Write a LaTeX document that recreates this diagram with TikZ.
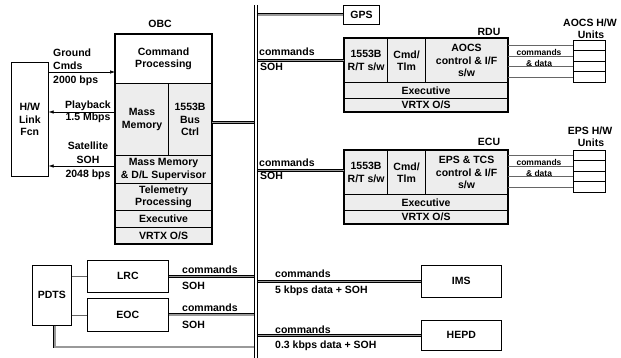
\documentclass[tikz,border=0pt]{standalone}
\usepackage{fontspec}
\setmainfont{Liberation Sans}
\usetikzlibrary{arrows.meta}
\begin{document}
\begin{tikzpicture}[x=1pt,y=-1pt,
  every node/.style={font=\fontsize{10.5}{12.5}\selectfont\bfseries, inner sep=0pt},
  cell/.style={draw, line width=1.1pt, fill=black!7, anchor=north west, align=center},
  plainbox/.style={draw, line width=0.6pt, fill=white, anchor=north west, align=center},
  unitrow/.style={draw, line width=0.5pt, anchor=north west, minimum width=32pt, minimum height=10.5pt},
  dbl/.style={draw=black, double=black!40, double distance=1.5pt, line width=0.7pt},
  busline/.style={draw=black, double=white, double distance=2pt, line width=0.8pt},
  arr/.style={line width=0.6pt, -{Latex[length=5pt,width=3.5pt]}},
  thinl/.style={line width=0.5pt, draw=black!60},
  lbl/.style={anchor=base west},
  small/.style={font=\fontsize{8.5}{10}\selectfont\bfseries}
]
\useasboundingbox (0,0) rectangle (621,358);
\coordinate (bustop) at (256,5);
\coordinate (busbot) at (256,358);

% ---------- OBC ----------
\node (obclbl) at (160,24) {OBC};
\node[cell, fill=white, minimum width=96pt, minimum height=49pt] (cmd) at (115,34) {Command\\Processing};
\node[cell, minimum width=53pt, minimum height=72pt] (mm) at (115,83) {Mass\\Memory};
\node[cell, minimum width=43pt, minimum height=72pt] (bc) at (168,83) {1553B\\Bus\\Ctrl};
\node[cell, minimum width=96pt, minimum height=28pt] (mmds) at (115,155) {Mass Memory\\\& D/L Supervisor};
\node[cell, minimum width=96pt, minimum height=27pt] (tlm) at (115,183) {Telemetry\\Processing};
\node[cell, minimum width=96pt, minimum height=17pt] (exe) at (115,210) {Executive};
\node[cell, minimum width=96pt, minimum height=16pt] (vrtx) at (115,227) {VRTX O/S};
\draw[line width=1.8pt] (cmd.north west) rectangle (vrtx.south east);

% ---------- H/W link ----------
\node[plainbox, minimum width=37pt, minimum height=114pt] (hw) at (11,62) {H/W\\Link\\Fcn};
\draw[arr] (hw.east |- 0,72) -- (cmd.west |- 0,72);
\draw[arr] (mm.west |- 0,112) -- (hw.east |- 0,112);
\draw[arr] (mmds.west |- 0,166) -- (hw.east |- 0,166);
\node[align=left, anchor=west, font=\fontsize{10.5}{13.5}\selectfont\bfseries] (gc) at (53,67) {Ground\\Cmds\\2000 bps};
\node[align=center, font=\fontsize{10.5}{12.5}\selectfont\bfseries] (pbk) at (88,112) {Playback\\1.5 Mbps};
\node[align=center, font=\fontsize{10.5}{14}\selectfont\bfseries] (ssoh) at (88,161) {Satellite\\SOH\\2048 bps};

% ---------- GPS ----------
\node[plainbox, line width=0.9pt, minimum width=36pt, minimum height=19pt] (gps) at (343,5) {GPS};
\draw[dbl] (gps.west) -- (gps.west -| bustop);
\draw[dbl] ([yshift=-3pt]bc.east) -- ([yshift=-3pt]bc.east -| bustop);

% ---------- RDU ----------
\node (rdulbl) at (489,32) {RDU};
\node[cell, minimum width=43pt, minimum height=44pt] (r1) at (344,38) {1553B\\R/T s/w};
\node[cell, minimum width=38pt, minimum height=44pt] (r2) at (387,38) {Cmd/\\Tlm};
\node[cell, minimum width=82pt, minimum height=44pt] (r3) at (425,38) {AOCS\\control \& I/F\\s/w};
\node[cell, minimum width=163pt, minimum height=16pt] (r4) at (344,82) {Executive};
\node[cell, minimum width=163pt, minimum height=13pt] (r5) at (344,98) {VRTX O/S};
\draw[line width=1.8pt] (r1.north west) rectangle (r5.south east);
\draw[dbl] (r1.west) -- (r1.west -| bustop);
\node[lbl] (rcm) at (259,56) {commands};
\node[lbl] (rsoh) at (260,71) {SOH};

\node (aocslbl) at (590,23) {AOCS H/W};
\node (aocsun) at (591,35) {Units};
\foreach \i in {0,1,2,3} {
  \node[unitrow] (au\i) at (573,40+10.5*\i) {};
  \draw[thinl] (r3.east |- au\i.west) -- (au\i.west);
}
\node[small] (acd1) at (539,52) {commands};
\node[small] (acd2) at (539,63) {\& data};

% ---------- ECU ----------
\node (eculbl) at (489,142) {ECU};
\node[cell, minimum width=43pt, minimum height=44pt] (e1) at (344,150) {1553B\\R/T s/w};
\node[cell, minimum width=38pt, minimum height=44pt] (e2) at (387,150) {Cmd/\\Tlm};
\node[cell, minimum width=82pt, minimum height=44pt] (e3) at (425,150) {EPS \& TCS\\control \& I/F\\s/w};
\node[cell, minimum width=163pt, minimum height=16pt] (e4) at (344,194) {Executive};
\node[cell, minimum width=163pt, minimum height=13pt] (e5) at (344,210) {VRTX O/S};
\draw[line width=1.8pt] (e1.north west) rectangle (e5.south east);
\draw[dbl] ([yshift=2pt]e1.west) -- ([yshift=2pt]e1.west -| bustop);
\node[lbl] (ecm) at (259,167) {commands};
\node[lbl] (esoh) at (260,180) {SOH};

\node (epslbl) at (590,131) {EPS H/W};
\node (epsun) at (591,143) {Units};
\foreach \i in {0,1,2,3} {
  \node[unitrow] (eu\i) at (573,150+10.5*\i) {};
  \draw[thinl] (e3.east |- eu\i.west) -- (eu\i.west);
}
\node[small] (ecd1) at (539,162) {commands};
\node[small] (ecd2) at (539,173) {\& data};

% ---------- PDTS / LRC / EOC ----------
\node[plainbox, minimum width=39pt, minimum height=60pt] (pdts) at (32,265) {PDTS};
\node[plainbox, minimum width=81pt, minimum height=32pt] (lrc) at (87,260) {LRC};
\node[plainbox, minimum width=81pt, minimum height=33pt] (eoc) at (87,298) {EOC};
\draw[thinl] (pdts.east |- lrc.west) -- (lrc.west);
\draw[thinl] (pdts.east |- eoc.west) -- (eoc.west);
\draw[dbl] (lrc.east) -- (lrc.east -| bustop);
\draw[dbl] (eoc.east) -- (eoc.east -| bustop);
\coordinate (pdtsbus) at (256,347);
\draw[dbl] ([xshift=3pt]pdts.south) |- (pdtsbus);
\node[lbl] (lcm) at (182,273) {commands};
\node[lbl] (lsoh) at (182,289) {SOH};
\node[lbl] (ocm) at (182,311) {commands};
\node[lbl] (osoh) at (182,328) {SOH};

% ---------- IMS / HEPD ----------
\node[plainbox, minimum width=80pt, minimum height=32pt] (ims) at (421,265) {IMS};
\node[plainbox, minimum width=80pt, minimum height=30pt] (hepd) at (421,320) {HEPD};
\draw[dbl] (ims.west) -- (ims.west -| bustop);
\draw[dbl] (hepd.west) -- (hepd.west -| bustop);
\node[lbl] (icm) at (275,277) {commands};
\node[lbl] (idat) at (275,293) {5 kbps data + SOH};
\node[lbl] (hcm) at (275,333) {commands};
\node[lbl] (hdat) at (275,348) {0.3 kbps data + SOH};

% ---------- bus ----------
\draw[busline] (bustop) -- (busbot);
\end{tikzpicture}
\end{document}
